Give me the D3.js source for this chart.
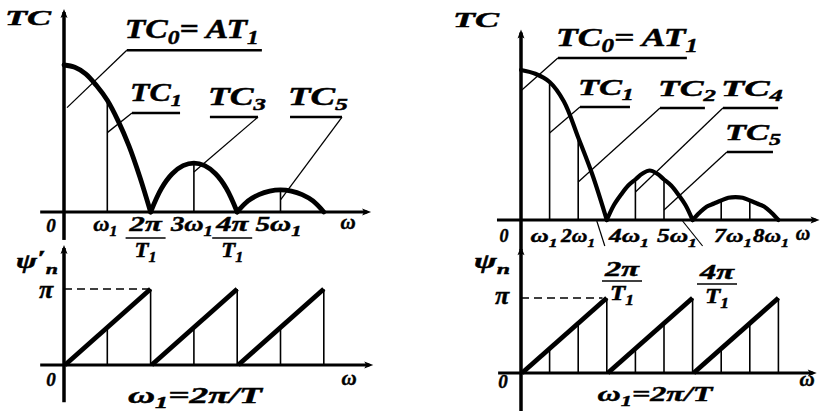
<!DOCTYPE html>
<html><head><meta charset="utf-8">
<script src="https://cdn.jsdelivr.net/npm/d3@7"></script>
<style>
html,body{margin:0;padding:0;background:#fff;}
svg{display:block;}
text{font-family:"Liberation Serif","Times New Roman",serif;font-weight:bold;font-style:italic;fill:#000;stroke:#000;stroke-width:0.45px;}
</style></head><body>
<svg id="fig" width="825" height="411"></svg>
<script>
// ---- Spectrum of a rectangular pulse train (n = ω / ω1, amplitude relative to TC0) ----
// Left: period T = 2·T1 (even harmonics fall on envelope zeros)
const leftLobe1 = [[0,1.00],[0.25,0.985],[0.5,0.94],[0.75,0.86],[1,0.76],[1.25,0.62],[1.5,0.45],[1.75,0.24],[2,0]];
const leftLobe2 = [[2,0],[2.25,0.16],[2.5,0.26],[2.75,0.315],[3,0.333],[3.25,0.315],[3.5,0.26],[3.75,0.16],[4,0]];
const leftLobe3 = [[4,0],[4.25,0.075],[4.5,0.118],[4.75,0.142],[5,0.15],[5.25,0.142],[5.5,0.118],[5.75,0.075],[6,0]];
const leftHarmonics = [1, 3, 5];
const leftHarmonicAmp = [0.76, 0.333, 0.15];
// phase (units of π)
const leftRamps = [[0, 2], [2, 4], [4, 6]];
const leftPhaseN = [1, 2, 3, 4, 5, 6];
const leftPhase = [0.5, 1, 0.5, 1, 0.5, 1];

// Right: period T = 3·T1
const rightLobe1 = [[0,1.00],[0.5,0.975],[1,0.92],[1.5,0.79],[2,0.55],[2.5,0.30],[3,0]];
const rightLobe2 = [[3,0],[3.25,0.10],[3.5,0.17],[3.75,0.23],[4,0.27],[4.25,0.31],[4.5,0.33],[4.75,0.31],[5,0.27],[5.25,0.23],[5.5,0.17],[5.75,0.10],[6,0]];
const rightLobe3 = [[6,0],[6.25,0.05],[6.5,0.09],[6.75,0.11],[7,0.13],[7.25,0.148],[7.5,0.153],[7.75,0.148],[8,0.13],[8.25,0.11],[8.5,0.09],[8.75,0.05],[9,0]];
const rightHarmonics = [1, 2, 4, 5, 7, 8];
const rightHarmonicAmp = [0.92, 0.55, 0.27, 0.27, 0.13, 0.13];
const rightRamps = [[0, 3], [3, 6], [6, 9]];
const rightPhaseN = [1, 2, 3, 4, 5, 6, 7, 8, 9];
const rightPhase = [0.33, 0.67, 1, 0.33, 0.67, 1, 0.33, 0.67, 1];

// tick labels
const leftTicks = [["ω", 1, "1"], ["3ω", 3, "1"], ["5ω", 5, "1"]];
const leftFracTicks = [["2π", 2], ["4π", 4]];
const rightTicks = [["ω", 1, "1"], ["2ω", 2, "1"], ["4ω", 4, "1"], ["5ω", 5, "1"], ["7ω", 7, "1"], ["8ω", 8, "1"]];
const rightFracTicks = [["2π", 3], ["4π", 6]];

const svg = d3.select("#fig");

// scales
const lx = d3.scaleLinear().domain([0, 8]).range([64, 64 + 8 * 43.3]);
const lyA = d3.scaleLinear().domain([0, 1]).range([212, 65]);
const lyP = d3.scaleLinear().domain([0, 1]).range([365, 289]);
const rx = d3.scaleLinear().domain([0, 10]).range([521, 521 + 286]);
const ryA = d3.scaleLinear().domain([0, 1]).range([220, 70]);
const ryP = d3.scaleLinear().domain([0, 1]).range([373, 298]);

const g = svg.append("g");

function line(x1, y1, x2, y2, w) {
  return g.append("line").attr("x1", x1).attr("y1", y1).attr("x2", x2).attr("y2", y2)
    .attr("stroke", "#000").attr("stroke-width", w);
}
function arrowRight(x, y) {
  g.append("path").attr("d", `M${x},${y} l-9,-3.5 l2,3.5 l-2,3.5 z`).attr("fill", "#000");
}
function arrowUp(x, y) {
  g.append("path").attr("d", `M${x},${y} l-3.5,9 l3.5,-2 l3.5,2 z`).attr("fill", "#000");
}

// ---- axes ----
function axes(xs, ya, yp, xA, yAext, xP, yPext, wY) {
  line(xs(0), ya(yAext[0]), xs(0), ya(yAext[1]), wY);
  line(xs(xA[0]), ya(0), xs(xA[1]), ya(0), 3);
  arrowRight(xs(xA[1]) + 4, ya(0));
  arrowUp(xs(0), ya(yAext[1]) - 3);
  line(xs(0), yp(yPext[0]), xs(0), yp(yPext[1]), wY);
  line(xs(xP[0]), yp(0), xs(xP[1]), yp(0), 3);
  arrowRight(xs(xP[1]) + 4, yp(0));
  arrowUp(xs(0), yp(yPext[1]) - 3);
}
axes(lx, lyA, lyP, [-0.55, 7.0], [-0.19, 1.36], [-0.55, 7.05], [-0.49, 1.54], 3.5);
axes(rx, ryA, ryP, [-0.84, 10.3], [-0.2, 1.25], [-0.8, 10.2], [-0.51, 1.65], 3.5);

// ---- amplitude spectra ----
function spectrum(xs, ys, lobes, harm, amp, w) {
  const ln = d3.line().x(d => xs(d[0])).y(d => ys(d[1])).curve(d3.curveCatmullRom.alpha(0.5));
  harm.forEach((n, i) => line(xs(n), ys(0), xs(n), ys(amp[i]), 1.6));
  lobes.forEach(lb => g.append("path").attr("d", ln(lb)).attr("fill", "none")
    .attr("stroke", "#000").attr("stroke-width", w).attr("stroke-linecap", "round"));
}
spectrum(lx, lyA, [leftLobe1, leftLobe2, leftLobe3], leftHarmonics, leftHarmonicAmp, 4.8);
spectrum(rx, ryA, [rightLobe1, rightLobe2, rightLobe3], rightHarmonics, rightHarmonicAmp, 4.2);

// ---- phase spectra ----
function phase(xs, ys, ramps, pn, pv, dashEnd) {
  g.append("line").attr("x1", xs(0)).attr("y1", ys(1)).attr("x2", xs(dashEnd)).attr("y2", ys(1))
    .attr("stroke", "#000").attr("stroke-width", 1.5).attr("stroke-dasharray", "8,5");
  pn.forEach((n, i) => line(xs(n), ys(0), xs(n), ys(pv[i]), 1.6));
  ramps.forEach(r => line(xs(r[0]) + 1, ys(0), xs(r[1]), ys(1), 4.8).attr("stroke-linecap", "butt"));
}
phase(lx, lyP, leftRamps, leftPhaseN, leftPhase, 1.95);
phase(rx, ryP, rightRamps, rightPhaseN, rightPhase, 2.85);

// ---- text helpers ----
// parts: plain strings, or {t, dy, sub} pieces (sub = smaller subscript glyphs)
function txt(x, y, size, parts, anchor, len) {
  const t = g.append("text").attr("x", x).attr("y", y).attr("font-size", size)
    .attr("text-anchor", anchor || "start");
  parts.forEach(p => {
    if (typeof p === "string") { t.append("tspan").text(p); return; }
    const s = t.append("tspan").attr("dy", p.dy || 0).text(p.t);
    if (p.sub) s.attr("font-size", size * 0.7);
  });
  if (len) t.attr("textLength", len).attr("lengthAdjust", "spacingAndGlyphs");
  return t;
}
const S = (t, dy) => ({t, dy, sub: true});
const N = (t, dy) => ({t, dy});

// leader callouts: underline + pointer to a mark
function callout(xs, ys, label, n0, n1, aLine, nTo, aTo, size, len, side) {
  const yU = ys(aLine);
  line(xs(n0), yU, xs(n1), yU, 2.4);
  const xFrom = side === "right" ? xs(n1) : xs(n0);
  line(xFrom, yU, xs(nTo), ys(aTo), 1.3);
  txt(xs(n0) - 2, yU - 12, size, label, "start", len);
}
const tcLabel = k => ["TC", S(k, 5)];
const tc0Label = () => ["TC", S("0", 6), N("= AT", -6), S("1", 6)];

// left callouts
callout(lx, lyA, tc0Label(), 1.45, 4.57, 1.10, 0.07, 0.71, 27, 134, "left");
callout(lx, lyA, tcLabel("1"), 1.57, 2.68, 0.673, 1.0, 0.54, 25, 52, "left");
callout(lx, lyA, tcLabel("3"), 3.37, 4.48, 0.646, 3.0, 0.272, 25, 58, "right");
callout(lx, lyA, tcLabel("5"), 5.22, 6.42, 0.646, 5.0, 0.082, 25, 60, "right");
// right callouts
callout(rx, ryA, tc0Label(), 1.29, 5.80, 1.08, 0.03, 0.867, 26, 142, "left");
callout(rx, ryA, tcLabel("1"), 2.06, 3.81, 0.753, 1.0, 0.58, 24, 56, "left");
callout(rx, ryA, tcLabel("2"), 4.86, 6.43, 0.747, 2.0, 0.253, 24, 58, "left");
callout(rx, ryA, tcLabel("4"), 7.06, 8.99, 0.747, 4.0, 0.187, 24, 62, "left");
callout(rx, ryA, tcLabel("5"), 7.20, 8.81, 0.453, 5.0, 0.067, 24, 56, "left");

// axis titles
txt(5, 25, 21, ["TC"], "start", 46);
txt(453, 27, 21, ["TC"], "start", 46);
txt(16, 268, 22, ["ψ", N("′", -3), S("n", 9)], "start", 42);
txt(474, 268, 22, ["ψ", S("n", 6)], "start", 36);
txt(46, 298, 26, ["π"], "middle");
txt(502, 304, 26, ["π"], "middle");
txt(51, 386, 19, ["0"], "middle");
txt(503, 388, 19, ["0"], "middle");
txt(lx(0) - 13, 232, 19, ["0"], "middle");
txt(rx(0) - 17, 242, 18, ["0"], "middle");
txt(195, 403, 23, ["ω", S("1", 5), N("=2π/T", -5)], "middle", 134);
txt(655, 401, 22, ["ω", S("1", 5), N("=2π/T", -5)], "middle", 115);
txt(349, 385, 21, ["ω"], "middle");
txt(807, 386, 21, ["ω"], "middle");
txt(348, 229, 21, ["ω"], "middle");
txt(803, 240, 20, ["ω"], "middle");

// left amplitude tick labels
const leftTickLen = [24, 42, 46];
leftTicks.forEach((d, i) => {
  txt(lx(d[1]) - 2, 231, 20, [d[0], S(d[2], 5)], "middle", leftTickLen[i]);
});
leftFracTicks.forEach(d => {
  const x = lx(d[1]) - 5;
  txt(x, 231, 20, [d[0]], "middle", 32);
  line(x - 20, 238, x + 20, 238, 1.6);
  txt(x, 257, 20, ["T", S("1", 5)], "middle", 22);
});
// right amplitude tick labels (crowded, spread along the axis)
const rightTickPos = [544, 578, 629, 677, 733, 771];
const rightTickLen = [27, 34, 40, 40, 38, 36];
rightTicks.forEach((d, i) => {
  txt(rightTickPos[i], 242, 19, [d[0], S(d[2], 5)], "middle", rightTickLen[i]);
});
// pointers from envelope zeros to their fraction labels
rightFracTicks.forEach((d, i) => {
  const x0 = rx(d[1]);
  line(x0 - 10, ryA(0) + 1, x0 - 2 + i * 12, ryA(0) + 26, 1.2);
  const xc = i === 0 ? 622 : 717;
  const yb = i === 0 ? 276 : 279;
  txt(xc, yb, 20, [d[0]], "middle", 34);
  line(xc - 20, yb + 5, xc + 20, yb + 5, 1.6);
  txt(xc, yb + 24, 20, ["T", S("1", 5)], "middle", 24);
});
</script>
</body></html>
